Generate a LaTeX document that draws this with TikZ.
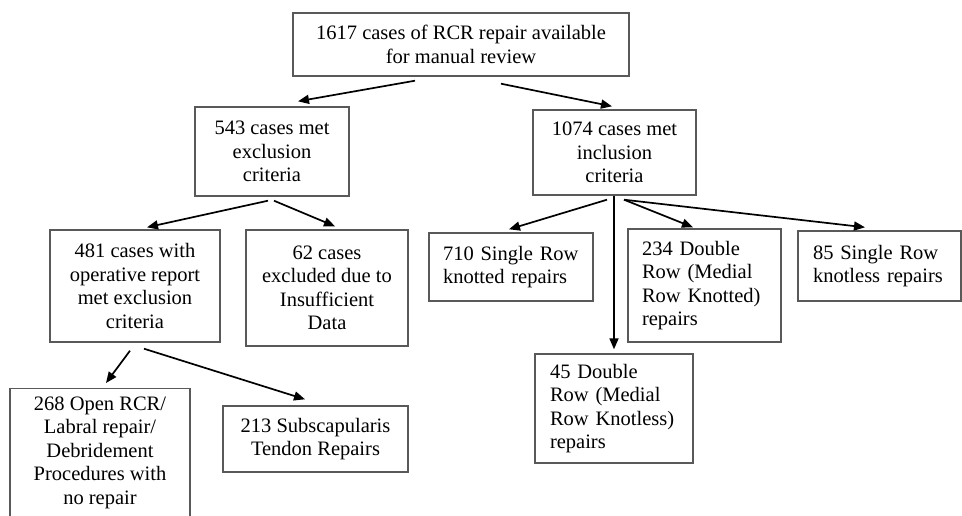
\documentclass[tikz,border=0pt]{standalone}
\usepackage{fontspec}
\setmainfont{Liberation Serif}
\usetikzlibrary{arrows.meta}
\begin{document}
\begin{tikzpicture}[x=1pt,y=-1pt,
  boxst/.style={draw=black!65, line width=1.4pt, inner sep=0pt, align=center,
     font=\fontsize{20.5}{23.5}\selectfont, text=black},
  lboxst/.style={boxst, align=left},
  arr/.style={line width=1.7pt, -{Triangle[length=11pt,width=9pt]}}]
\useasboundingbox (0,0) rectangle (962,515);
\fill[white] (0,0) rectangle (962,515);

\node[boxst, minimum width=336pt, minimum height=63pt] (top) at (461,44.5)
  {1617 cases of RCR repair available\\for manual review};
\node[boxst, minimum width=154pt, minimum height=89pt] (ex) at (272,151.5)
  {543 cases met\\exclusion\\criteria};
\node[boxst, minimum width=163pt, minimum height=85pt] (inc) at (614.5,152.5)
  {1074 cases met\\inclusion\\criteria};
\node[boxst, minimum width=170pt, minimum height=112pt] (op) at (135,286)
  {481 cases with\\operative report\\met exclusion\\criteria};
\node[boxst, minimum width=162pt, minimum height=116pt] (ins) at (327,288)
  {62 cases\\excluded due to\\Insufficient\\Data};
\node[lboxst, minimum width=164pt, minimum height=68pt, text width=136pt] (sk) at (511,267)
  {710 Single Row\\knotted repairs};
\node[lboxst, minimum width=153pt, minimum height=113pt, text width=125pt] (dk) at (704.5,285.5)
  {234 Double\\Row (Medial\\Row Knotted)\\repairs};
\node[lboxst, minimum width=163pt, minimum height=70pt, text width=133pt] (sl) at (879.5,266)
  {85 Single Row\\knotless repairs};
\node[lboxst, minimum width=158pt, minimum height=109pt, text width=128pt] (dl) at (614,408.5)
  {45 Double\\Row (Medial\\Row Knotless)\\repairs};
\node[boxst, minimum width=185pt, minimum height=66pt] (sub) at (315.5,439)
  {213 Subscapularis\\Tendon Repairs};
\node[draw=black!65, line width=1.4pt, inner sep=0pt, anchor=north, text=black] (open) at (100,388)
  {\parbox[c][150pt][t]{180pt}{\centering\fontsize{20.5}{23.5}\selectfont\vspace{8pt}268 Open RCR/\\Labral repair/\\Debridement\\Procedures with\\no repair}};

\draw[arr] ([xshift=-46pt,yshift=-4pt]top.south) -- ([xshift=26pt,yshift=5pt]ex.north);
\draw[arr] ([xshift=40pt,yshift=-7pt]top.south) -- ([xshift=-2.5pt,yshift=3pt]inc.north);
\draw[arr] ([xshift=-4pt,yshift=-4pt]ex.south) -- ([xshift=12pt,yshift=2pt]op.north);
\draw[arr] ([xshift=2pt,yshift=-4pt]ex.south) -- ([xshift=8pt,yshift=3pt]ins.north);
\draw[arr] ([xshift=-7.5pt,yshift=-4pt]inc.south) -- ([xshift=-2pt,yshift=3pt]sk.north);
\draw[arr] ([xshift=-0.5pt]inc.south) -- ([yshift=4pt]dl.north);
\draw[arr] ([xshift=9.5pt,yshift=-4pt]inc.south) -- ([xshift=-11.5pt,yshift=1pt]dk.north);
\draw[arr] ([xshift=9.5pt,yshift=-4pt]inc.south) -- ([xshift=-14.5pt,yshift=3pt]sl.north);
\draw[arr] ([xshift=-5pt,yshift=-8pt]op.south) -- ([xshift=6pt,yshift=5pt]open.north);
\draw[arr] ([xshift=9pt,yshift=-6pt]op.south) -- ([xshift=-10.5pt,yshift=6pt]sub.north);
\end{tikzpicture}
\end{document}
